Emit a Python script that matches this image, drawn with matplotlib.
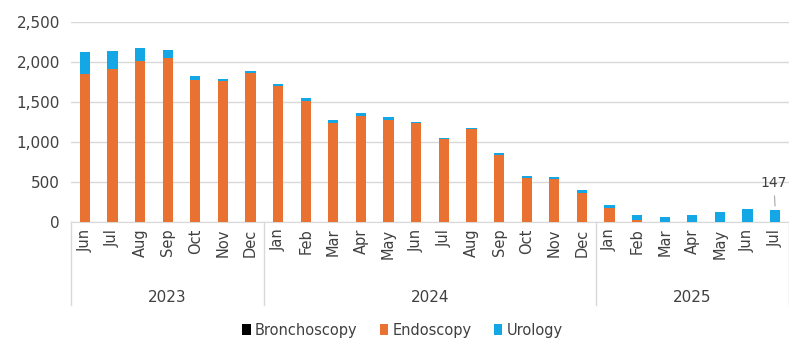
import matplotlib
matplotlib.use("Agg")
import matplotlib.pyplot as plt
from matplotlib.ticker import FuncFormatter
import numpy as np

# data
months = ["Jun", "Jul", "Aug", "Sep", "Oct", "Nov", "Dec",
          "Jan", "Feb", "Mar", "Apr", "May", "Jun", "Jul", "Aug", "Sep", "Oct", "Nov", "Dec",
          "Jan", "Feb", "Mar", "Apr", "May", "Jun", "Jul"]
years = ["2023", "2024", "2025"]
year_counts = [7, 12, 7]
bronchoscopy = [0] * 26
endoscopy = [1842, 1913, 2009, 2042, 1771, 1759, 1855,
             1696, 1513, 1233, 1321, 1267, 1229, 1029, 1154, 833, 542, 538, 354,
             167, 21, 0, 0, 0, 0, 0]
urology = [275, 225, 166, 100, 54, 30, 30,
           20, 33, 34, 42, 37, 21, 17, 21, 21, 24, 25, 38,
           42, 58, 58, 79, 117, 160, 147]

c_bron = "#000000"
c_endo = "#E97132"
c_uro = "#13A8E5"
txt = "#404040"

fig = plt.figure(figsize=(7.89, 3.40), dpi=100)
ax = fig.add_axes([71 / 789, 1 - 221.7 / 340, 718 / 789, 200 / 340])

x = np.arange(len(months))
w = 0.37
b1 = ax.bar(x, bronchoscopy, w, color=c_bron, label="Bronchoscopy", zorder=3)
b2 = ax.bar(x, endoscopy, w, bottom=bronchoscopy, color=c_endo, label="Endoscopy", zorder=3)
base = np.array(bronchoscopy) + np.array(endoscopy)
b3 = ax.bar(x, urology, w, bottom=base, color=c_uro, label="Urology", zorder=3)

ax.set_xlim(-0.5, len(months) - 0.5)
ax.set_ylim(0, 2500)
ax.set_yticks(range(0, 2501, 500))
ax.yaxis.set_major_formatter(FuncFormatter(lambda v, p: f"{int(v):,}"))
ax.grid(axis="y", color="#D9D9D9", linewidth=1, zorder=0)
for s in ["top", "right", "left"]:
    ax.spines[s].set_visible(False)
ax.spines["bottom"].set_color("#D9D9D9")
ax.tick_params(axis="y", length=0, labelsize=11, labelcolor=txt, pad=8)
ax.set_xticks(x)
ax.set_xticklabels(months, rotation=90, fontsize=10.5, color=txt)
ax.tick_params(axis="x", length=0, pad=5)

# year group separators and labels
sep_depth = -(305 - 221.7) / 200
edges = np.concatenate([[0], np.cumsum(year_counts)]) - 0.5
for e in edges:
    ax.plot([e, e], [0, sep_depth], transform=ax.get_xaxis_transform(),
            color="#D9D9D9", linewidth=1, clip_on=False)
for i, yr in enumerate(years):
    mid = (edges[i] + edges[i + 1]) / 2
    ax.text(mid, -(297 - 221.7) / 200, yr, transform=ax.get_xaxis_transform(),
            ha="center", va="center", fontsize=11, color=txt,
            family=["Liberation Sans Narrow", "DejaVu Sans"])

# data label for the last bar
last = len(months) - 1
top = base[last] + urology[last]
ax.annotate(f"{urology[last]}", xy=(last, top + 15), xytext=(last - 0.05, 480),
            ha="center", va="center", fontsize=10, color=txt,
            arrowprops=dict(arrowstyle="-", color="#A6A6A6", lw=0.8, shrinkA=2))

fig.legend(handles=[b1, b2, b3], loc="center", bbox_to_anchor=(0.51, 1 - 330 / 340),
           ncol=3, frameon=False, handlelength=0.6, handleheight=0.8,
           handletextpad=0.3, columnspacing=1.5,
           prop={"family": ["Liberation Sans Narrow", "DejaVu Sans"], "size": 10.5},
           labelcolor=txt)

fig.savefig("out.png", dpi=100)
